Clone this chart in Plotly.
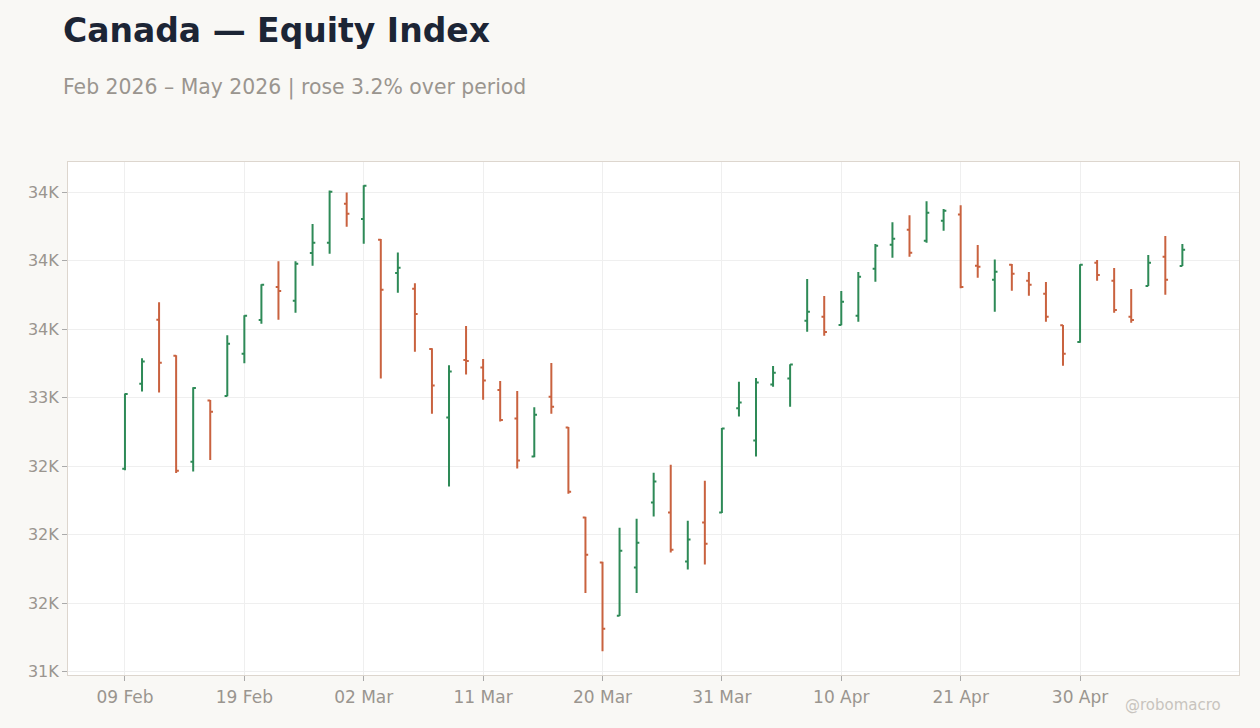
import pandas as pd
import plotly.graph_objects as go

# Trading days (TSX business days, Family Day and Good Friday closed)
holidays = ["2026-02-16", "2026-04-03"]
dates = pd.bdate_range("2026-02-09", "2026-05-08", freq="C", holidays=holidays)
date_labels = [d.strftime("%Y-%m-%d") for d in dates]

open_ = [32480, 33102, 33569, 33306, 32531, 32978, 33012, 33321, 33567, 33807,
         33707, 34055, 34130, 34415, 34303, 34152, 33909, 33795, 33355, 32854,
         33275, 33219, 33056, 32847, 32570, 33007, 32781, 32125, 31797, 31408,
         31760, 32234, 32162, 31804, 32089, 32162, 32923, 32687, 33095, 33139,
         33562, 33591, 33530, 33598, 33941, 34116, 34225, 34145, 34291, 34337,
         33963, 33860, 33970, 33853, 33758, 33528, 33406, 33985, 33853, 33591,
         33815, 34028, 33960]
high = [33030, 33287, 33696, 33310, 33076, 32983, 33455, 33601, 33827, 33995,
        33995, 34267, 34512, 34498, 34551, 34157, 34060, 33834, 33360, 33236,
        33523, 33282, 33122, 33049, 32930, 33253, 32786, 32130, 31802, 32050,
        32116, 32451, 32509, 32101, 32393, 32779, 33115, 33144, 33231, 33243,
        33866, 33742, 33778, 33917, 34121, 34281, 34332, 34434, 34376, 34405,
        34114, 34009, 33975, 33917, 33844, 33530, 33973, 34004, 33946, 33793,
        34041, 34179, 34121]
low = [32470, 33044, 33037, 32449, 32460, 32544, 33010, 33251, 33540, 33569,
       33620, 33963, 34050, 34247, 34123, 33139, 33766, 33335, 32883, 32351,
       33168, 32985, 32825, 32482, 32565, 32883, 32298, 31574, 31148, 31405,
       31574, 32132, 31870, 31746, 31782, 32157, 32862, 32570, 33080, 32934,
       33481, 33452, 33528, 33554, 33846, 34021, 34028, 34130, 34218, 33798,
       33875, 33627, 33780, 33744, 33554, 33233, 33401, 33853, 33620, 33547,
       33815, 33751, 33960]
close = [33027, 33263, 33255, 32466, 33071, 32896, 33394, 33598, 33824, 33778,
         33977, 34130, 34502, 34342, 34546, 33788, 33948, 33610, 33088, 33190,
         33268, 33124, 32837, 32541, 32874, 32934, 32312, 31853, 31313, 31882,
         31941, 32388, 31890, 31965, 31933, 32774, 32964, 33110, 33182, 33241,
         33627, 33479, 33700, 33882, 34108, 34160, 34057, 34349, 34364, 33807,
         33955, 33919, 33904, 33824, 33591, 33321, 33970, 33895, 33640, 33567,
         33985, 33860, 34079]

y_tickvals = [31000, 31500, 32000, 32500, 33000, 33500, 34000, 34500]
y_ticktext = ["31K", "32K", "32K", "32K", "33K", "34K", "34K", "34K"]

x_tickvals = date_labels[::7]
x_ticktext = [pd.Timestamp(d).strftime("%d %b") for d in x_tickvals]

GREEN = "#2e8a57"
RED = "#c9623f"
GRAY = "#9a958f"

fig = go.Figure(go.Ohlc(
    x=date_labels, open=open_, high=high, low=low, close=close,
    increasing=dict(line=dict(color=GREEN, width=2)),
    decreasing=dict(line=dict(color=RED, width=2)),
    tickwidth=0.16, showlegend=False, hoverinfo="skip",
))

fig.update_layout(
    width=1260, height=728,
    paper_bgcolor="#f9f8f5", plot_bgcolor="#ffffff",
    margin=dict(l=68, r=21, t=162, b=53),
    font=dict(family="DejaVu Sans", color=GRAY, size=16),
    title=dict(text="<b>Canada — Equity Index</b>", x=63 / 1260, xanchor="left",
               xref="container", y=1 - 30 / 728, yanchor="middle", yref="container",
               font=dict(size=33, color="#1c2535", family="DejaVu Sans")),
    annotations=[
        dict(text="Feb 2026 – May 2026 | rose 3.2% over period", xref="paper", yref="paper",
             x=(61 - 68) / 1171, y=(675 - 87) / 513, xanchor="left", yanchor="middle",
             showarrow=False, font=dict(size=20.4, color=GRAY)),
        dict(text="@robomacro", xref="paper", yref="paper",
             x=(1223 - 68) / 1171, y=(675 - 705) / 513, xanchor="right", yanchor="middle",
             showarrow=False, font=dict(size=15, color="#c8c4be")),
    ],
    xaxis=dict(type="category", range=[-3.34, 65.32], rangeslider=dict(visible=False),
               tickmode="array", tickvals=x_tickvals, ticktext=x_ticktext,
               showgrid=True, gridcolor="#efefef", gridwidth=1,
               showline=True, linecolor="#ddd6ce", linewidth=1, mirror=True,
               ticks="outside", ticklen=5, tickcolor="#aaaaaa", ticklabelstandoff=2,
               tickfont=dict(size=17, color=GRAY), zeroline=False),
    yaxis=dict(range=[30975, 34720], tickmode="array", tickvals=y_tickvals, ticktext=y_ticktext,
               showgrid=True, gridcolor="#efefef", gridwidth=1,
               showline=True, linecolor="#ddd6ce", linewidth=1, mirror=True,
               ticks="outside", ticklen=5, tickcolor="#aaaaaa",
               tickfont=dict(size=16, color=GRAY), zeroline=False),
)

fig.write_html("out.html")
